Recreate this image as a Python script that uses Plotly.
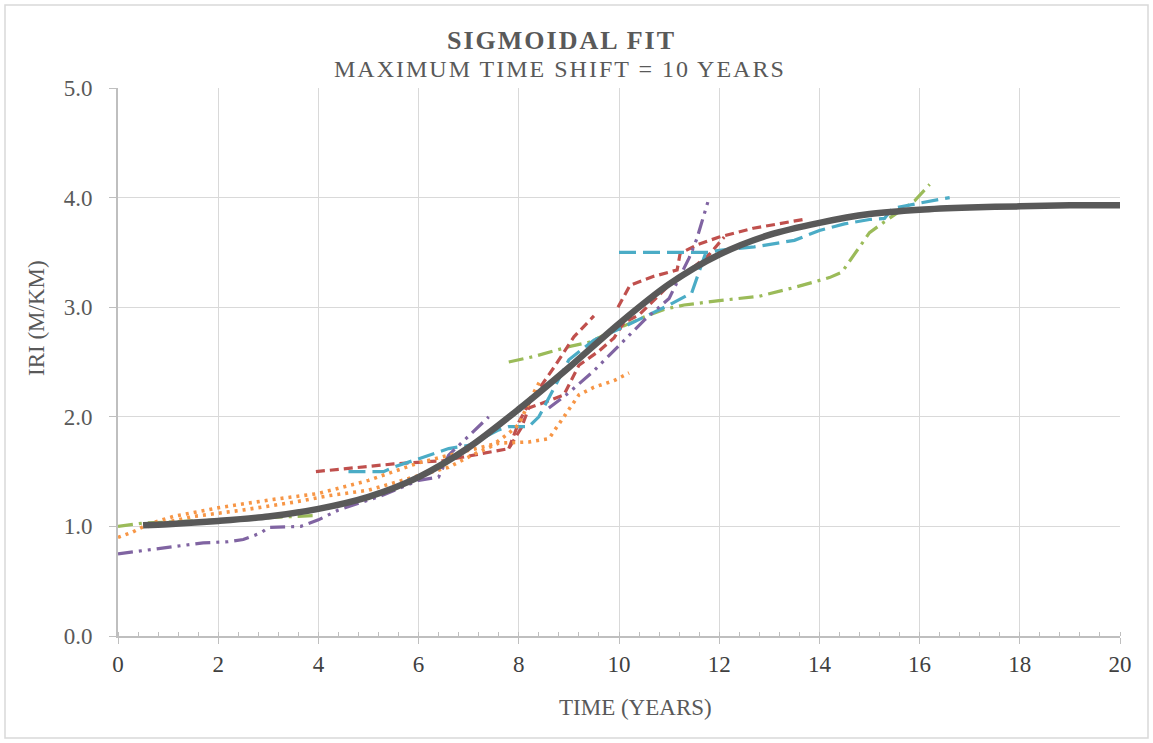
import plotly.graph_objects as go

# ---------------- data ----------------
fit_x = [0.5, 1, 2, 3, 4, 5, 6, 7, 8, 9, 10, 11, 12, 13, 14, 15, 16, 17, 18, 19, 20]
fit_y = [1.01, 1.02, 1.05, 1.09, 1.16, 1.27, 1.45, 1.72, 2.07, 2.45, 2.85, 3.21, 3.48, 3.66, 3.77, 3.85, 3.89, 3.91, 3.92, 3.93, 3.93]

orange_a_x = [0.0, 0.3, 0.6, 1.1, 2.0, 3.0, 4.0, 5.0, 6.0, 6.9, 7.5, 7.8, 8.0, 8.1, 8.25, 8.45]
orange_a_y = [0.90, 0.95, 1.02, 1.09, 1.17, 1.24, 1.30, 1.42, 1.58, 1.68, 1.75, 1.85, 1.93, 2.03, 2.18, 2.35]
orange_b_x = [0.6, 1.5, 2.5, 3.5, 4.2, 5.0, 5.9, 6.6, 7.2, 7.6, 8.2, 8.6, 8.9, 9.2, 9.5, 9.9, 10.2]
orange_b_y = [1.00, 1.09, 1.15, 1.22, 1.28, 1.33, 1.45, 1.54, 1.68, 1.76, 1.77, 1.80, 2.00, 2.20, 2.27, 2.33, 2.40]

purple_a_x = [0.0, 1.0, 1.7, 2.2, 2.5, 2.85, 3.0, 3.65, 4.0, 4.4, 5.2, 6.0, 6.4, 6.6, 7.4]
purple_a_y = [0.75, 0.81, 0.85, 0.86, 0.88, 0.94, 0.99, 1.00, 1.06, 1.15, 1.27, 1.42, 1.45, 1.65, 2.00]
purple_b_x = [8.6, 9.0, 9.5, 10.0, 10.5, 11.0, 11.4, 11.55, 11.8]
purple_b_y = [2.08, 2.22, 2.42, 2.65, 2.88, 3.08, 3.45, 3.62, 4.00]

green_a_x = [0.0, 0.5, 2.0, 3.7, 4.0]
green_a_y = [1.00, 1.03, 1.06, 1.09, 1.10]
green_b_x = [7.8, 8.3, 9.0, 9.4, 10.0, 10.5, 10.9, 11.3, 12.0, 12.8, 13.5, 14.2, 14.45, 15.0, 15.3, 15.9, 16.2]
green_b_y = [2.50, 2.55, 2.64, 2.68, 2.81, 2.91, 2.98, 3.02, 3.06, 3.10, 3.18, 3.27, 3.32, 3.68, 3.78, 3.97, 4.12]

red_a_x = [3.95, 5.5, 6.5, 7.0, 7.8, 8.05, 8.2, 8.5, 8.9, 9.2, 9.6, 9.9, 10.1, 10.4, 11.0, 11.5, 11.8, 12.1]
red_a_y = [1.50, 1.57, 1.60, 1.64, 1.71, 1.90, 2.08, 2.13, 2.20, 2.47, 2.60, 2.72, 2.86, 2.93, 3.20, 3.37, 3.48, 3.64]
red_b_x = [7.8, 8.0, 8.2, 8.7, 9.1, 9.5]
red_b_y = [1.71, 1.95, 2.12, 2.45, 2.73, 2.92]
red_c_x = [9.98, 10.22, 10.68, 11.16, 11.22, 11.56, 12.0, 12.68, 13.67]
red_c_y = [3.00, 3.20, 3.28, 3.34, 3.49, 3.57, 3.64, 3.72, 3.80]

aqua_a_x = [4.6, 5.3, 5.5, 6.1, 6.6, 7.0, 7.6, 7.8, 8.2, 8.4, 9.0, 9.5, 10.0, 10.5, 11.0, 11.45, 11.75]
aqua_a_y = [1.50, 1.50, 1.54, 1.63, 1.71, 1.74, 1.88, 1.91, 1.91, 2.00, 2.52, 2.70, 2.80, 2.91, 3.02, 3.13, 3.52]
aqua_b_x = [10.0, 11.8, 12.0, 12.7, 13.5, 14.0, 14.5, 15.0, 15.3, 15.45, 16.0, 16.6]
aqua_b_y = [3.50, 3.50, 3.52, 3.55, 3.61, 3.70, 3.76, 3.80, 3.81, 3.90, 3.95, 4.00]

x_ticks = [0, 2, 4, 6, 8, 10, 12, 14, 16, 18, 20]
y_ticks = [0.0, 1.0, 2.0, 3.0, 4.0, 5.0]

TITLE = "SIGMOIDAL FIT"
SUBTITLE = "MAXIMUM TIME SHIFT = 10 YEARS"
X_TITLE = "TIME (YEARS)"
Y_TITLE = "IRI (M/KM)"

# ---------------- styles ----------------
ORANGE = "#F79646"
PURPLE = "#8064A2"
GREEN = "#9BBB59"
RED = "#C0504D"
AQUA = "#4BACC6"
FIT = "#595959"
TXT = "#595959"
FONT = "Liberation Serif"

DOT = "3px,5px"
SYSDASH = "9px,5px"
LONGDASH = "17px,7px"
LDASHDOT = "15px,6px,3px,6px"
LDASHDOTDOT = "15px,6px,3px,6px,3px,6px"

fig = go.Figure()


def add(x, y, color, dash, width=3.2, shape="linear"):
    fig.add_trace(go.Scatter(x=x, y=y, mode="lines",
                             line=dict(color=color, width=width, dash=dash, shape=shape,
                                       smoothing=0.8),
                             showlegend=False, hoverinfo="skip"))


add(green_a_x, green_a_y, GREEN, LDASHDOT)
add(green_b_x, green_b_y, GREEN, LDASHDOT)
add(red_a_x, red_a_y, RED, SYSDASH)
add(red_b_x, red_b_y, RED, SYSDASH)
add(red_c_x, red_c_y, RED, SYSDASH)
add(aqua_a_x, aqua_a_y, AQUA, LONGDASH)
add(aqua_b_x, aqua_b_y, AQUA, LONGDASH)
add(purple_a_x, purple_a_y, PURPLE, LDASHDOTDOT)
add(purple_b_x, purple_b_y, PURPLE, LDASHDOTDOT)
add(orange_a_x, orange_a_y, ORANGE, DOT, 3.6)
add(orange_b_x, orange_b_y, ORANGE, DOT, 3.6)
add(fit_x, fit_y, FIT, "solid", 6.5, "spline")

W, H = 1153, 743
ML, MR, MT, MB = 118, 33, 88, 107
PW, PH = W - ML - MR, H - MT - MB


def px_x(px):
    return (px - ML) / PW


def px_y(py):
    return (H - MB - py) / PH


fig.update_layout(
    width=W, height=H,
    margin=dict(l=ML, r=MR, t=MT, b=MB, pad=0),
    paper_bgcolor="white", plot_bgcolor="white",
    font=dict(family=FONT, color=TXT, size=23),
    xaxis=dict(range=[0, 20], tickvals=x_ticks, ticktext=[str(v) for v in x_ticks],
               showgrid=True, gridcolor="#D9D9D9", gridwidth=1,
               showline=True, linecolor="#BFBFBF", linewidth=2,
               ticks="outside", ticklen=6, tickcolor="#BFBFBF", tickwidth=1,
               minor=dict(ticks="inside", dtick=0.4, tick0=0, ticklen=4,
                          tickcolor="#BFBFBF", tickwidth=1, showgrid=False),
               tickfont=dict(size=23, color="#404040", family=FONT),
               zeroline=False, fixedrange=True),
    yaxis=dict(range=[0, 5], tickvals=y_ticks, ticktext=[f"{v:.1f}" for v in y_ticks],
               showgrid=True, gridcolor="#D9D9D9", gridwidth=1,
               showline=True, linecolor="#BFBFBF", linewidth=2,
               ticks="outside", ticklen=7, tickcolor="#BFBFBF", tickwidth=1,
               ticklabelstandoff=12,
               tickfont=dict(size=23, color=TXT, family=FONT),
               zeroline=False, fixedrange=True),
    shapes=[dict(type="rect", xref="paper", yref="paper",
                 x0=px_x(5), x1=px_x(1148), y0=px_y(738), y1=px_y(5),
                 line=dict(color="#D9D9D9", width=1.5), fillcolor="rgba(0,0,0,0)",
                 layer="below")],
    annotations=[
        dict(text=f'<b><span style="letter-spacing:2px">{TITLE}</span></b>',
             xref="paper", yref="paper", x=px_x(561), y=px_y(40),
             xanchor="center", yanchor="middle", showarrow=False,
             font=dict(size=26, color=TXT, family=FONT)),
        dict(text=f'<span style="letter-spacing:2px">{SUBTITLE}</span>',
             xref="paper", yref="paper", x=px_x(560), y=px_y(69),
             xanchor="center", yanchor="middle", showarrow=False,
             font=dict(size=24, color=TXT, family=FONT)),
        dict(text=X_TITLE, xref="paper", yref="paper", x=px_x(635), y=px_y(707),
             xanchor="center", yanchor="middle", showarrow=False,
             font=dict(size=23, color=TXT, family=FONT)),
        dict(text=Y_TITLE, xref="paper", yref="paper", x=px_x(36), y=px_y(318),
             xanchor="center", yanchor="middle", showarrow=False, textangle=-90,
             font=dict(size=23, color=TXT, family=FONT)),
    ],
)

fig.write_html("out.html")
